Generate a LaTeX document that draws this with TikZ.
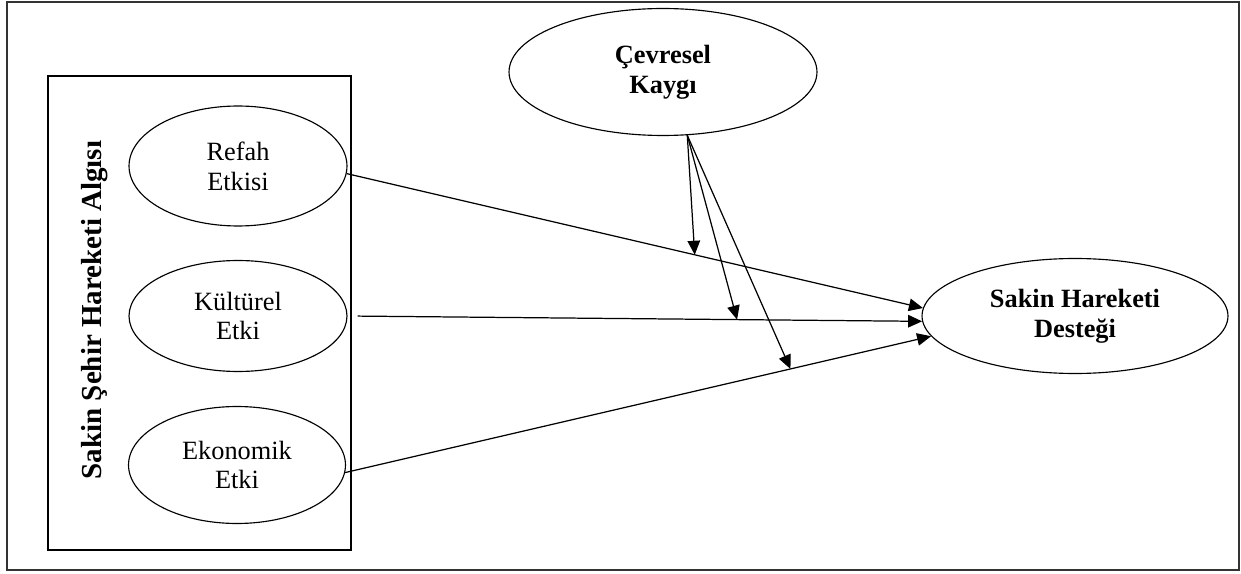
\documentclass[tikz,border=0pt]{standalone}
\usepackage{fontspec}
\setmainfont{Liberation Serif}
\usetikzlibrary{arrows.meta,shapes.geometric}

\tikzset{
  oval/.style={draw, ellipse, line width=0.65pt, inner sep=0pt,
    align=center, font=\fontsize{15}{17}\selectfont},
  koyu/.style={font=\fontsize{15}{17}\selectfont\bfseries},
  yol/.style={-{Triangle[length=0.28cm, width=0.25cm]}, line width=0.7pt},
}

\begin{document}
\begin{tikzpicture}[x=0.02cm, y=-0.02cm]
  \useasboundingbox (0, 0) rectangle (1241, 574);
  \draw[line width=1.1pt, draw=black!80] (7, 2) rectangle (1239, 570);
  \draw[line width=0.8pt] (48, 76) rectangle (351, 550);

  \node[rotate=90, font=\fontsize{16.5}{18}\selectfont\bfseries]
    (algi) at (95, 310) {Sakin Şehir Hareketi Algısı};

  \node[oval, minimum width=4.36cm, minimum height=2.4cm]
    (refah) at (238, 166) {Refah\\Etkisi};
  \node[oval, minimum width=4.36cm, minimum height=2.22cm]
    (kultur) at (238, 316) {Kültürel\\Etki};
  \node[oval, minimum width=4.34cm, minimum height=2.34cm]
    (ekonomi) at (237, 465) {Ekonomik\\Etki};

  \node[oval, koyu, minimum width=6.16cm, minimum height=2.54cm]
    (cevre) at (663, 72) {Çevresel\\Kaygı};
  \node[oval, koyu, minimum width=6.12cm, minimum height=2.3cm]
    (destek) at (1075, 316) {Sakin Hareketi\\Desteği};

  % dogrudan etkiler
  \draw[yol] (refah.-4) -- (destek.177)
    coordinate[pos=0.604] (m1);
  \draw[yol, shorten <=0.2cm] (kultur.east) -- (destek.182)
    coordinate[pos=0.678] (m2);
  \draw[yol] (ekonomi.-4) -- (destek.188)
    coordinate[pos=0.76] (m3);

  % duzenleyici etki
  \draw[yol] (cevre.-69) -- (m1);
  \draw[yol] (cevre.-69) -- (m2);
  \draw[yol] (cevre.-69) -- (m3);
\end{tikzpicture}
\end{document}
